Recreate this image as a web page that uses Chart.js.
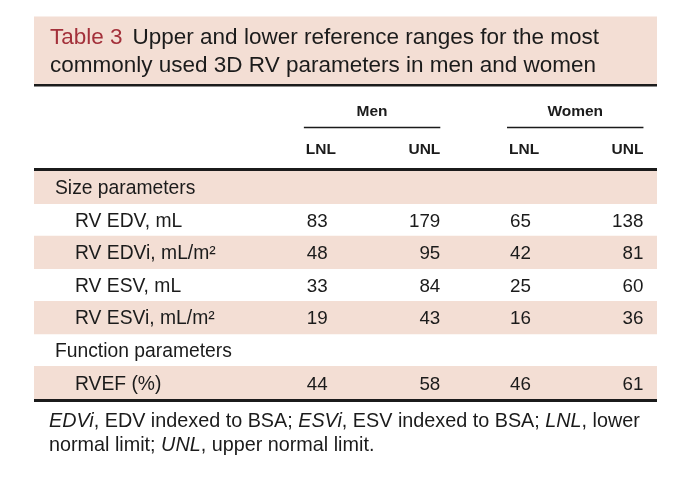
<!DOCTYPE html>
<html><head><meta charset="utf-8">
<script src="https://cdn.jsdelivr.net/npm/chart.js@4.4.1/dist/chart.umd.min.js"></script>
<style>html,body{margin:0;padding:0;background:#fff;}#wrap{width:680px;height:496px;}</style>
</head><body><div id="wrap"><canvas id="c" width="680" height="496"></canvas></div>
<script>
// ---- data ----
const tableNumber = 'Table 3';
const titleLines = ['Upper and lower reference ranges for the most', 'commonly used 3D RV parameters in men and women'];
const groups = ['Men', 'Women'];
const subColumns = ['LNL', 'UNL'];
const rowLabels = ['Size parameters', 'RV EDV, mL', 'RV EDVi, mL/m\u00B2', 'RV ESV, mL', 'RV ESVi, mL/m\u00B2', 'Function parameters', 'RVEF (%)'];
const rowIsSection = [true, false, false, false, false, true, false];
const menLNL = [null, 83, 48, 33, 19, null, 44];
const menUNL = [null, 179, 95, 84, 43, null, 58];
const womenLNL = [null, 65, 42, 25, 16, null, 46];
const womenUNL = [null, 138, 81, 60, 36, null, 61];
const footnoteLine1 = [['EDVi', true], [', EDV indexed to BSA; ', false], ['ESVi', true], [', ESV indexed to BSA; ', false], ['LNL', true], [', lower', false]];
const footnoteLine2 = [['normal limit; ', false], ['UNL', true], [', upper normal limit.', false]];

// ---- layout / style ----
const X_MAX = 9.2;
const columnSeries = [menLNL, menUNL, womenLNL, womenUNL];
const columnSlot = [4, 5, 7, 8];          // x-scale slot where each column starts (1 unit wide)
const columnAlign = ['left', 'right', 'left', 'right'];
const PINK = '#f3ded4';
const RED = '#a3303a';
const INK = '#1b1b1b';
const FONT = '"Liberation Sans", Arial, Helvetica, sans-serif';

const tablePlugin = {
  id: 'tablePlugin',
  beforeDatasetsDraw(chart) {
    const {ctx, chartArea: a} = chart;
    ctx.save();
    ctx.fillStyle = PINK;
    ctx.fillRect(a.left, 16.5, a.right - a.left, 68);
    ctx.restore();
  },
  afterDatasetsDraw(chart) {
    const {ctx, chartArea: a, scales: {x, y}} = chart;
    ctx.save();
    ctx.textBaseline = 'alphabetic';
    // title
    ctx.font = '22.5px ' + FONT;
    ctx.fillStyle = RED;
    ctx.textAlign = 'left';
    const tx = a.left + 16;
    ctx.fillText(tableNumber, tx, 43.5);
    const w = ctx.measureText(tableNumber).width;
    ctx.fillStyle = INK;
    ctx.fillText(titleLines[0], tx + w + 10, 43.5);
    ctx.fillText(titleLines[1], tx, 71.5);
    // rules
    ctx.strokeStyle = INK;
    ctx.lineWidth = 2.5;
    ctx.beginPath(); ctx.moveTo(a.left, 85.2); ctx.lineTo(a.right, 85.2); ctx.stroke();
    ctx.lineWidth = 3;
    ctx.beginPath(); ctx.moveTo(a.left, a.top - 1.5); ctx.lineTo(a.right, a.top - 1.5); ctx.stroke();
    ctx.beginPath(); ctx.moveTo(a.left, a.bottom + 1.5); ctx.lineTo(a.right, a.bottom + 1.5); ctx.stroke();
    // group headers
    ctx.font = 'bold 15.5px ' + FONT;
    ctx.lineWidth = 1.5;
    groups.forEach((g, gi) => {
      const x0 = x.getPixelForValue(columnSlot[gi * 2]) - 1;
      const x1 = x.getPixelForValue(columnSlot[gi * 2 + 1] + 1);
      ctx.textAlign = 'center';
      ctx.fillText(g, (x0 + x1) / 2, 116);
      ctx.beginPath(); ctx.moveTo(x0, 127.5); ctx.lineTo(x1, 127.5); ctx.stroke();
    });
    columnSeries.forEach((col, ci) => {
      const left = columnSlot[ci];
      const px = columnAlign[ci] === 'left' ? x.getPixelForValue(left) + 1 : x.getPixelForValue(left + 1);
      ctx.textAlign = columnAlign[ci];
      ctx.font = 'bold 15.5px ' + FONT;
      ctx.fillText(subColumns[ci % 2], px, 154);
      ctx.font = '18.8px ' + FONT;
      col.forEach((v, ri) => {
        if (v === null) return;
        ctx.fillText(String(v), px + (columnAlign[ci] === 'left' ? 1 : 0), y.getPixelForValue(ri) + 6.8);
      });
    });
    // row labels
    ctx.textAlign = 'left';
    ctx.font = '19.3px ' + FONT;
    rowLabels.forEach((lab, ri) => {
      const px = a.left + (rowIsSection[ri] ? 21 : 41);
      ctx.fillText(lab, px, y.getPixelForValue(ri) + 6.9);
    });
    // footnote
    const drawLine = (segs, yy) => {
      let cx = a.left + 15;
      segs.forEach(([t, it]) => {
        ctx.font = (it ? 'italic ' : '') + '19.8px ' + FONT;
        ctx.fillText(t, cx, yy);
        cx += ctx.measureText(t).width;
      });
    };
    drawLine(footnoteLine1, 427);
    drawLine(footnoteLine2, 450.5);
    ctx.restore();
  }
};

new Chart(document.getElementById('c'), {
  type: 'bar',
  data: {
    labels: rowLabels,
    datasets: [{
      label: 'bands',
      data: rowLabels.map((_, i) => (i % 2 === 0 ? [0, X_MAX] : null)),
      backgroundColor: PINK,
      borderWidth: 0,
      barPercentage: 1,
      categoryPercentage: 1,
      borderSkipped: false
    }]
  },
  options: {
    indexAxis: 'y',
    responsive: false,
    animation: false,
    devicePixelRatio: 1,
    layout: {padding: {left: 34, right: 23, top: 171, bottom: 97}},
    plugins: {legend: {display: false}, tooltip: {enabled: false}, title: {display: false}},
    scales: {
      x: {type: 'linear', min: 0, max: X_MAX, display: false},
      y: {type: 'category', display: false, offset: true}
    }
  },
  plugins: [tablePlugin]
});
</script></body></html>
